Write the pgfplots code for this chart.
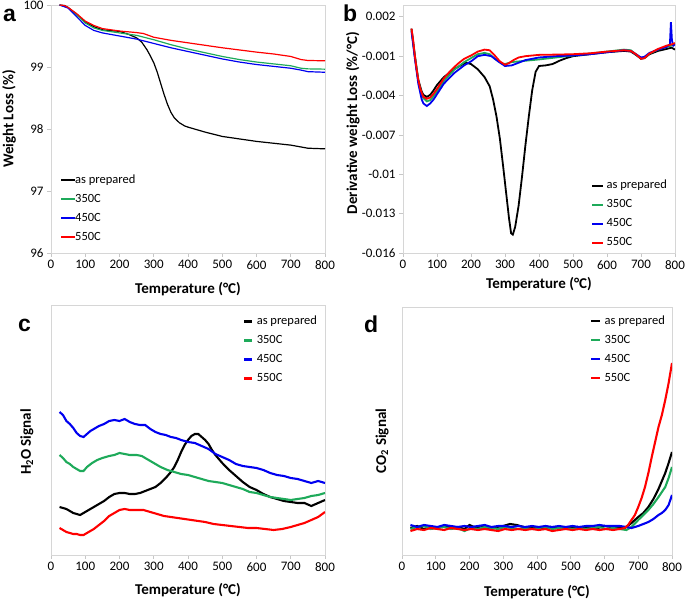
\documentclass[border=0pt]{standalone}
\usepackage{fontspec}
\setmainfont{Carlito}
\newfontfamily\letterfont{Liberation Sans}
\usepackage{pgfplots}
\pgfplotsset{compat=1.18}
\definecolor{mygreen}{RGB}{30,170,90}
\definecolor{myblue}{RGB}{0,0,240}
\definecolor{myred}{RGB}{255,0,0}
\pgfplotsset{
 base/.style={scale only axis, xmin=0, xmax=800, xtick={0,100,...,800},
  axis line style={draw=black!16, line width=0.8pt},
  tick style={draw=black!22, line width=0.8pt}, major tick length=4pt,
  tick align=outside, xtick pos=lower, ytick pos=left,
  scaled y ticks=false, scaled x ticks=false,
  tick label style={font=\fontsize{13}{15}\selectfont},
  /pgf/number format/assume math mode=true,
  label style={font=\bfseries\fontsize{15}{17}\selectfont},
  legend cell align=left,
  legend style={draw=none, fill=none, font=\fontsize{12.5}{15}\selectfont, row sep=5pt, inner sep=0pt,
    nodes={inner sep=1pt, text height=9pt, text depth=3pt}, anchor=north west},
  xlabel={Temperature (°C)},
  xlabel style={anchor=center},
  ylabel style={anchor=center},
 },
 smoothl/.style={no markers, line width=1.2pt},
 noisy/.style={no markers, line width=1.8pt},
 noisyc/.style={no markers, line width=2.1pt},
 limg/.style 2 args={legend image code/.code={\fill[#1] (0pt,-0.55pt) rectangle (#2,0.55pt);}},
}
\begin{document}
\begin{tikzpicture}
\useasboundingbox (0,0) rectangle (686pt,600pt);
% letters
\node[anchor=base west, inner sep=0pt, font=\letterfont\bfseries\fontsize{23}{25}\selectfont] at (3pt,578.5pt) {a};
\node[anchor=base west, inner sep=0pt, font=\letterfont\bfseries\fontsize{23}{25}\selectfont] at (343pt,578pt) {b};
\node[anchor=base west, inner sep=0pt, font=\letterfont\bfseries\fontsize{23}{25}\selectfont] at (18pt,268pt) {c};
\node[anchor=base west, inner sep=0pt, font=\letterfont\bfseries\fontsize{23}{25}\selectfont] at (364pt,267pt) {d};

% ---------------- panel a
\begin{axis}[base, at={(51pt,347pt)}, anchor=south west, width=274pt, height=248pt,
  ymin=96, ymax=100, ytick={96,97,98,99,100},
  ylabel={Weight Loss (\%)},
  xlabel style={at={(axis description cs:0.5,-0.145)}},
  ylabel style={at={(axis description cs:-0.153,0.54)}},
  legend style={at={(axis description cs:0.035,0.323)}}]
\addlegendimage{limg={black}{13pt}}
\addlegendimage{limg={mygreen}{13pt}}
\addlegendimage{limg={myblue}{13pt}}
\addlegendimage{limg={myred}{13pt}}
\addplot[smoothl, color=black, forget plot] coordinates {(25,100) (40,99.99) (50,99.96) (75,99.85) (100,99.72) (125,99.65) (150,99.60) (175,99.585) (200,99.575) (225,99.53) (250,99.47) (265,99.40) (280,99.28) (290,99.18) (300,99.07) (310,98.92) (320,98.74) (330,98.56) (340,98.40) (350,98.27) (360,98.18) (375,98.10) (390,98.05) (400,98.03) (450,97.95) (500,97.88) (550,97.84) (600,97.80) (650,97.77) (700,97.74) (730,97.71) (750,97.69) (800,97.68)};
\addplot[smoothl, color=mygreen, forget plot] coordinates {(25,100) (50,99.96) (75,99.84) (100,99.71) (125,99.63) (150,99.59) (200,99.55) (250,99.51) (300,99.44) (350,99.36) (400,99.29) (450,99.23) (500,99.17) (550,99.12) (600,99.08) (650,99.05) (700,99.02) (730,98.98) (750,98.97) (800,98.965)};
\addplot[smoothl, color=myblue, forget plot] coordinates {(25,100) (50,99.95) (75,99.81) (100,99.67) (125,99.59) (150,99.55) (200,99.50) (250,99.45) (300,99.38) (350,99.31) (400,99.25) (450,99.19) (500,99.13) (550,99.08) (600,99.04) (650,99.01) (700,98.98) (730,98.95) (750,98.925) (800,98.915)};
\addplot[smoothl, color=myred, forget plot] coordinates {(25,100) (40,99.99) (50,99.96) (75,99.86) (100,99.74) (125,99.67) (150,99.62) (200,99.58) (250,99.555) (270,99.54) (300,99.48) (350,99.43) (400,99.39) (450,99.35) (500,99.31) (550,99.275) (600,99.24) (650,99.21) (700,99.17) (730,99.12) (750,99.105) (800,99.10)};
\legend{as prepared,350C,450C,550C}
\end{axis}

% ---------------- panel b
\begin{axis}[base, at={(403pt,347pt)}, anchor=south west, width=272pt, height=248pt,
  ymin=-0.016, ymax=0.0029, ytick={-0.016,-0.013,-0.010,-0.007,-0.004,-0.001,0.002},
  yticklabels={-0.016,-0.013,-0.01,-0.007,-0.004,-0.001,0.002},
  ylabel={Derivative weight Loss (\%/°C)},
  xlabel style={at={(axis description cs:0.5,-0.125)}},
  ylabel style={at={(axis description cs:-0.184,0.524)}},
  legend style={at={(axis description cs:0.695,0.302)}, column sep=3pt}]
\addlegendimage{limg={black}{10pt}}
\addlegendimage{limg={mygreen}{10pt}}
\addlegendimage{limg={myblue}{10pt}}
\addlegendimage{limg={myred}{10pt}}
\addplot[noisy, color=black, forget plot] coordinates {(25,1.1e-3) (35,-1.0e-3) (45,-2.8e-3) (55,-3.7e-3) (60,-3.95e-3) (70,-4.1e-3) (80,-3.95e-3) (90,-3.6e-3) (100,-3.2e-3) (120,-2.6e-3) (150,-2.0e-3) (170,-1.7e-3) (185,-1.5e-3) (200,-1.6e-3) (220,-2.0e-3) (240,-2.6e-3) (255,-3.3e-3) (265,-4.3e-3) (275,-5.6e-3) (285,-7.3e-3) (295,-9.5e-3) (305,-11.8e-3) (312,-13.4e-3) (318,-14.5e-3) (323,-14.6e-3) (330,-14.0e-3) (340,-12.4e-3) (350,-10.2e-3) (360,-7.8e-3) (370,-5.6e-3) (380,-3.6e-3) (390,-2.2e-3) (400,-1.75e-3) (420,-1.7e-3) (440,-1.6e-3) (460,-1.35e-3) (480,-1.15e-3) (500,-1.0e-3) (550,-0.85e-3) (600,-0.7e-3) (650,-0.6e-3) (670,-0.65e-3) (685,-0.9e-3) (700,-1.2e-3) (710,-1.15e-3) (725,-0.85e-3) (750,-0.6e-3) (775,-0.45e-3) (790,-0.35e-3) (800,-0.5e-3)};
\addplot[noisy, color=mygreen, forget plot] coordinates {(25,1.0e-3) (35,-1.0e-3) (45,-2.9e-3) (55,-3.9e-3) (60,-4.2e-3) (70,-4.45e-3) (80,-4.35e-3) (90,-4.05e-3) (100,-3.7e-3) (120,-2.9e-3) (150,-2.05e-3) (180,-1.45e-3) (200,-1.15e-3) (220,-0.85e-3) (240,-0.75e-3) (255,-0.85e-3) (270,-1.2e-3) (290,-1.55e-3) (300,-1.6e-3) (320,-1.45e-3) (340,-1.4e-3) (360,-1.35e-3) (400,-1.25e-3) (450,-1.1e-3) (500,-0.95e-3) (550,-0.8e-3) (600,-0.65e-3) (650,-0.5e-3) (670,-0.55e-3) (685,-0.85e-3) (700,-1.15e-3) (710,-1.1e-3) (725,-0.8e-3) (750,-0.5e-3) (775,-0.3e-3) (800,-0.1e-3)};
\addplot[noisy, color=myblue, forget plot] coordinates {(25,0.9e-3) (35,-1.2e-3) (45,-3.1e-3) (55,-4.3e-3) (60,-4.6e-3) (70,-4.8e-3) (80,-4.6e-3) (90,-4.3e-3) (100,-3.9e-3) (120,-3.1e-3) (150,-2.3e-3) (180,-1.7e-3) (200,-1.4e-3) (220,-1.0e-3) (240,-0.9e-3) (260,-1.0e-3) (280,-1.4e-3) (300,-1.75e-3) (320,-1.7e-3) (340,-1.5e-3) (360,-1.3e-3) (400,-1.1e-3) (450,-1.0e-3) (500,-0.95e-3) (550,-0.85e-3) (600,-0.7e-3) (650,-0.55e-3) (670,-0.6e-3) (685,-0.85e-3) (700,-1.1e-3) (710,-1.05e-3) (725,-0.75e-3) (750,-0.5e-3) (775,-0.3e-3) (785,-0.1e-3) (788,1.6e-3) (791,0.2e-3) (795,-0.2e-3) (800,-0.1e-3)};
\addplot[noisy, color=myred, forget plot] coordinates {(25,1.1e-3) (30,0.2e-3) (35,-1.0e-3) (40,-2.0e-3) (45,-2.8e-3) (50,-3.4e-3) (55,-3.8e-3) (60,-4.1e-3) (70,-4.25e-3) (80,-4.15e-3) (90,-3.85e-3) (100,-3.5e-3) (110,-3.1e-3) (120,-2.7e-3) (135,-2.25e-3) (150,-1.85e-3) (165,-1.5e-3) (180,-1.2e-3) (200,-0.95e-3) (220,-0.65e-3) (240,-0.5e-3) (255,-0.55e-3) (270,-0.95e-3) (285,-1.4e-3) (300,-1.65e-3) (310,-1.55e-3) (325,-1.3e-3) (340,-1.1e-3) (360,-1.0e-3) (380,-0.95e-3) (400,-0.9e-3) (450,-0.88e-3) (500,-0.85e-3) (550,-0.78e-3) (600,-0.65e-3) (650,-0.55e-3) (670,-0.6e-3) (685,-0.85e-3) (700,-1.2e-3) (710,-1.15e-3) (725,-0.8e-3) (750,-0.45e-3) (775,-0.2e-3) (790,-0.1e-3) (800,0.0)};
\legend{as prepared,350C,450C,550C}
\end{axis}

% ---------------- panel c
\begin{axis}[base, at={(51pt,45pt)}, anchor=south west, width=274pt, height=250pt,
  ymin=0, ymax=250, ytick=\empty,
  ylabel={H\textsubscript{2}O Signal},
  xlabel style={at={(axis description cs:0.5,-0.14)}},
  ylabel style={at={(axis description cs:-0.088,0.452)}},
  legend style={at={(axis description cs:0.705,0.964)}, column sep=4pt}]
\addlegendimage{limg={black}{7pt}}
\addlegendimage{limg={mygreen}{7pt}}
\addlegendimage{limg={myblue}{7pt}}
\addlegendimage{limg={myred}{7pt}}
\addplot[noisyc, color=black, forget plot] coordinates {(25,48) (35,47) (45,46) (55,44) (65,42) (75,41) (85,40) (95,42) (110,45) (125,48) (140,51) (155,54) (170,58) (185,61) (200,62) (215,62) (230,61) (245,61) (260,62) (275,64) (290,66) (305,68) (320,72) (335,77) (350,83) (360,88) (370,95) (380,103) (390,110) (400,115) (410,119) (420,121) (430,121) (440,118) (450,115) (460,111) (470,105) (480,100) (490,96) (500,92) (520,85) (540,79) (560,73) (580,68) (600,65) (620,61) (640,58) (660,56) (680,54) (700,53) (720,52) (740,52) (760,49) (780,52) (800,55)};
\addplot[noisyc, color=mygreen, forget plot] coordinates {(25,100) (35,97) (45,93) (55,91) (65,88) (75,86) (85,84) (95,84) (105,88) (120,92) (135,95) (150,97) (170,99) (185,100) (200,102) (215,101) (230,100) (250,100) (265,99) (280,96) (300,92) (320,88) (340,85) (360,83) (380,81) (400,80) (420,78) (440,76) (460,74) (480,73) (500,72) (520,70) (540,68) (560,66) (580,63) (600,62) (620,60) (640,58) (660,57) (680,56) (700,55) (720,56) (740,57) (760,59) (780,60) (800,62)};
\addplot[noisyc, color=myblue, forget plot] coordinates {(25,143) (35,140) (45,134) (55,131) (65,127) (75,122) (85,119) (95,118) (105,121) (115,124) (125,126) (140,129) (155,131) (170,134) (185,135) (200,134) (215,136) (230,133) (245,131) (260,130) (275,130) (290,126) (305,123) (320,121) (335,120) (350,118) (365,117) (380,115) (400,113) (420,112) (440,109) (460,106) (480,101) (500,98) (520,95) (540,91) (560,89) (580,88) (600,87) (620,85) (640,82) (660,80) (680,79) (700,77) (720,76) (740,74) (760,72) (780,74) (800,72)};
\addplot[noisyc, color=myred, forget plot] coordinates {(25,27) (35,25) (45,23) (55,22) (65,21) (75,21) (85,20) (95,20) (110,23) (125,26) (140,30) (155,34) (170,39) (185,42) (200,45) (215,46) (230,45) (250,45) (270,45) (290,43) (310,41) (330,39) (350,38) (370,37) (390,36) (410,35) (430,34) (450,33) (475,31) (500,30) (525,29) (550,28) (575,27) (600,27) (625,26) (650,25) (675,26) (700,28) (720,30) (740,32) (760,35) (780,38) (800,43)};
\legend{as prepared,350C,450C,550C}
\end{axis}

% ---------------- panel d
\begin{axis}[base, at={(402pt,45pt)}, anchor=south west, width=270pt, height=248pt,
  ymin=0, ymax=248, ytick=\empty,
  ylabel={CO\textsubscript{2} Signal},
  xlabel style={at={(axis description cs:0.5,-0.149)}},
  ylabel style={at={(axis description cs:-0.074,0.46)}},
  legend style={at={(axis description cs:0.70,0.972)}, column sep=4pt}]
\addlegendimage{limg={black}{8pt}}
\addlegendimage{limg={mygreen}{8pt}}
\addlegendimage{limg={myblue}{8pt}}
\addlegendimage{limg={myred}{8pt}}
\addplot[noisyc, color=black, forget plot] coordinates {(25,27) (45,29) (65,26) (85,28) (105,27) (125,29) (145,27) (165,28) (185,26) (200,30) (220,27) (240,28) (260,27) (280,28) (300,29) (320,31) (340,30) (360,28) (380,27) (400,28) (420,26) (440,28) (460,27) (480,28) (500,27) (520,28) (540,27) (560,28) (580,27) (600,29) (620,28) (640,27) (660,27) (680,32) (700,38) (715,42) (730,48) (745,56) (760,66) (770,74) (780,82) (790,92) (800,103)};
\addplot[noisyc, color=mygreen, forget plot] coordinates {(25,26) (45,28) (65,29) (85,26) (105,27) (125,28) (145,26) (165,27) (185,24) (205,27) (225,26) (245,28) (265,27) (285,26) (305,28) (325,27) (345,26) (365,27) (385,26) (405,27) (425,28) (445,26) (465,27) (485,27) (505,26) (525,27) (545,26) (565,27) (585,28) (605,26) (625,27) (645,26) (665,25) (680,28) (700,35) (715,40) (730,45) (745,51) (760,58) (770,63) (780,68) (790,77) (800,88)};
\addplot[noisyc, color=myblue, forget plot] coordinates {(25,30) (45,28) (65,30) (85,29) (105,28) (125,30) (145,29) (165,28) (185,29) (205,28) (225,29) (245,30) (265,28) (285,29) (305,29) (325,28) (345,29) (365,28) (385,29) (405,28) (425,29) (445,28) (465,29) (485,28) (505,29) (525,28) (545,29) (565,29) (585,30) (605,29) (625,29) (645,29) (665,28) (680,27) (700,29) (715,31) (730,33) (745,36) (760,40) (770,42) (780,45) (790,50) (800,60)};
\addplot[noisyc, color=myred, forget plot] coordinates {(25,24) (45,26) (65,25) (85,27) (105,26) (125,25) (145,27) (165,26) (185,25) (205,26) (225,25) (245,26) (265,25) (285,24) (305,26) (325,25) (345,26) (365,25) (385,26) (405,25) (425,26) (445,24) (465,25) (485,26) (505,25) (525,26) (545,25) (565,26) (585,25) (605,26) (625,25) (645,26) (660,27) (670,30) (680,35) (690,40) (700,48) (710,57) (720,68) (730,82) (740,98) (750,113) (760,128) (770,140) (780,155) (790,172) (800,192)};
\legend{as prepared,350C,450C,550C}
\end{axis}
\end{tikzpicture}
\end{document}
